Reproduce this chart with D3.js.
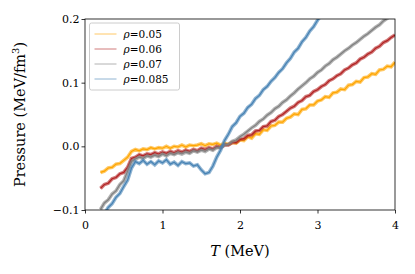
<!DOCTYPE html>
<html>
<head>
<meta charset="utf-8">
<script src="https://cdn.jsdelivr.net/npm/d3@7"></script>
<style>
  body { margin: 0; background: #fff; }
</style>
</head>
<body>
<div id="chart"></div>
<script>
// sampled every 0.05 MeV, starting at tStart
const step = 0.05;

const densities = ['0.05', '0.06', '0.07', '0.085'];
const colors = ['#ffa500', '#b22222', '#808080', '#4682b4'];
const tStarts = [0.2, 0.2, 0.2, 0.25];

const pressure005 = [
  -0.041, -0.039, -0.034, -0.033, -0.028, -0.027, -0.022, -0.017, -0.008, -0.005,
  -0.007, -0.004, -0.005, -0.002, -0.004, -0.002, -0.003, 0.000, -0.003, 0.000,
  -0.001, 0.002, -0.001, 0.002, 0.001, 0.002, 0.004, 0.001, 0.004, 0.003,
  0.005, 0.002, 0.005, 0.003, 0.006, 0.005, 0.010, 0.009, 0.015, 0.013,
  0.020, 0.019, 0.026, 0.025, 0.032, 0.033, 0.038, 0.038, 0.044, 0.046,
  0.051, 0.050, 0.058, 0.059, 0.065, 0.065, 0.071, 0.073, 0.078, 0.077,
  0.084, 0.085, 0.090, 0.089, 0.096, 0.097, 0.102, 0.101, 0.108, 0.109,
  0.114, 0.113, 0.120, 0.121, 0.126, 0.125, 0.132
];

const pressure006 = [
  -0.066, -0.060, -0.058, -0.051, -0.049, -0.043, -0.041, -0.033, -0.019, -0.017,
  -0.013, -0.015, -0.012, -0.013, -0.010, -0.012, -0.009, -0.011, -0.008, -0.010,
  -0.007, -0.009, -0.006, -0.008, -0.005, -0.007, -0.003, -0.005, -0.002, -0.004,
  0.000, -0.002, 0.002, 0.002, 0.006, 0.006, 0.011, 0.012, 0.017, 0.018,
  0.024, 0.025, 0.031, 0.032, 0.039, 0.041, 0.047, 0.050, 0.055, 0.060,
  0.063, 0.069, 0.072, 0.078, 0.080, 0.086, 0.089, 0.094, 0.097, 0.103,
  0.106, 0.111, 0.114, 0.120, 0.123, 0.128, 0.131, 0.137, 0.140, 0.145,
  0.148, 0.154, 0.157, 0.163, 0.166, 0.171, 0.175
];

const pressure007 = [
  -0.099, -0.089, -0.084, -0.075, -0.070, -0.060, -0.054, -0.039, -0.024, -0.020,
  -0.017, -0.019, -0.015, -0.017, -0.014, -0.016, -0.012, -0.015, -0.011, -0.013,
  -0.010, -0.012, -0.009, -0.011, -0.007, -0.009, -0.006, -0.008, -0.004, -0.006,
  -0.002, -0.002, 0.002, 0.003, 0.008, 0.010, 0.015, 0.019, 0.024, 0.029,
  0.033, 0.039, 0.043, 0.049, 0.053, 0.059, 0.063, 0.069, 0.073, 0.079,
  0.084, 0.090, 0.095, 0.100, 0.106, 0.110, 0.116, 0.120, 0.126, 0.130,
  0.136, 0.140, 0.145, 0.150, 0.154, 0.159, 0.163, 0.168, 0.173, 0.177,
  0.182, 0.187, 0.191, 0.197, 0.201, 0.206, 0.211
];

const pressure0085 = [
  -0.106, -0.096, -0.090, -0.080, -0.074, -0.063, -0.053, -0.034,
  -0.024, -0.027, -0.022, -0.028, -0.024, -0.029, -0.023, -0.026, -0.021,
  -0.028, -0.025, -0.030, -0.024, -0.027, -0.026, -0.031, -0.029,
  -0.037, -0.043, -0.041, -0.031, -0.017, -0.006, 0.009, 0.019, 0.031, 0.037,
  0.047, 0.052, 0.061, 0.066, 0.075, 0.080, 0.089, 0.094, 0.102, 0.108,
  0.116, 0.122, 0.131, 0.138, 0.148, 0.154, 0.164, 0.171, 0.181, 0.188,
  0.198, 0.206, 0.214
];

const pressures = [pressure005, pressure006, pressure007, pressure0085];

const xTicks = [0, 1, 2, 3, 4];
const yTicks = [-0.1, 0.0, 0.1, 0.2];

const font = '"DejaVu Serif", "Liberation Serif", serif';

const width = 415, height = 274;
const margin = { top: 19, right: 20, bottom: 64, left: 85 };
const innerW = width - margin.left - margin.right;
const innerH = height - margin.top - margin.bottom;

const svg = d3.select('#chart').append('svg')
  .attr('width', width)
  .attr('height', height)
  .attr('font-family', font);

const x = d3.scaleLinear().domain([0, 4]).range([0, innerW]);
const y = d3.scaleLinear().domain([-0.1, 0.2]).range([innerH, 0]);

const g = svg.append('g')
  .attr('transform', `translate(${margin.left},${margin.top})`);

g.append('clipPath').attr('id', 'clip')
  .append('rect').attr('width', innerW).attr('height', innerH);

const line = d3.line()
  .x(d => x(d[0]))
  .y(d => y(d[1]));

const series = pressures.map((vals, i) =>
  vals.map((v, j) => [tStarts[i] + j * step, v]));

const plot = g.append('g').attr('clip-path', 'url(#clip)');

series.forEach((pts, i) => {
  plot.append('path')
    .attr('d', line(pts))
    .attr('fill', 'none')
    .attr('stroke', colors[i])
    .attr('stroke-width', 3.6)
    .attr('stroke-opacity', 0.6)
    .attr('stroke-linejoin', 'miter');
  plot.append('path')
    .attr('d', line(pts))
    .attr('fill', 'none')
    .attr('stroke', colors[i])
    .attr('stroke-width', 1.2)
    .attr('stroke-opacity', 1);
});

// axes
const axisX = d3.axisBottom(x).tickValues(xTicks).tickFormat(d3.format('d')).tickSize(3.5);
const axisY = d3.axisLeft(y).tickValues(yTicks).tickFormat(d3.format('.1f')).tickSize(3.5);

const gx = g.append('g').attr('transform', `translate(0,${innerH})`).call(axisX);
const gy = g.append('g').call(axisY);

[gx, gy].forEach(a => {
  a.attr('font-family', font);
  a.select('.domain').remove();
  a.selectAll('.tick line').attr('stroke', '#000').attr('stroke-width', 0.8);
  a.selectAll('.tick text')
    .attr('fill', '#000')
    .attr('font-size', 11);
});
gx.selectAll('.tick text').attr('dy', '1.1em');
gy.selectAll('.tick text').attr('x', -5.5);

g.append('rect')
  .attr('width', innerW)
  .attr('height', innerH)
  .attr('fill', 'none')
  .attr('stroke', '#000')
  .attr('stroke-width', 0.8);

// axis labels
const xl = svg.append('text')
  .attr('x', margin.left + innerW / 2)
  .attr('y', 256)
  .attr('text-anchor', 'middle')
  .attr('font-size', 14.5);
xl.append('tspan').attr('font-style', 'italic').text('T');
xl.append('tspan').text(' (MeV)');

const yl = svg.append('text')
  .attr('transform', `translate(25,${margin.top + innerH / 2}) rotate(-90)`)
  .attr('text-anchor', 'middle')
  .attr('font-size', 14.5);
yl.append('tspan').text('Pressure (MeV/fm');
yl.append('tspan').attr('dy', -6).attr('font-size', 10).text('3');
yl.append('tspan').attr('dy', 6).text(')');

// legend
const leg = g.append('g').attr('transform', 'translate(4.5,4)');
leg.append('rect')
  .attr('width', 90)
  .attr('height', 67)
  .attr('rx', 2)
  .attr('fill', '#fff')
  .attr('fill-opacity', 0.8)
  .attr('stroke', '#ccc')
  .attr('stroke-width', 1);

densities.forEach((rho, i) => {
  const row = leg.append('g').attr('transform', `translate(0,${11 + i * 15})`);
  row.append('line')
    .attr('x1', 5).attr('x2', 27)
    .attr('stroke', colors[i])
    .attr('stroke-opacity', 0.6)
    .attr('stroke-width', 1);
  const t = row.append('text')
    .attr('x', 34)
    .attr('dy', '0.35em')
    .attr('font-size', 10.5);
  t.append('tspan').attr('font-style', 'italic').text('ρ');
  t.append('tspan').text('=' + rho);
});
</script>
</body>
</html>
